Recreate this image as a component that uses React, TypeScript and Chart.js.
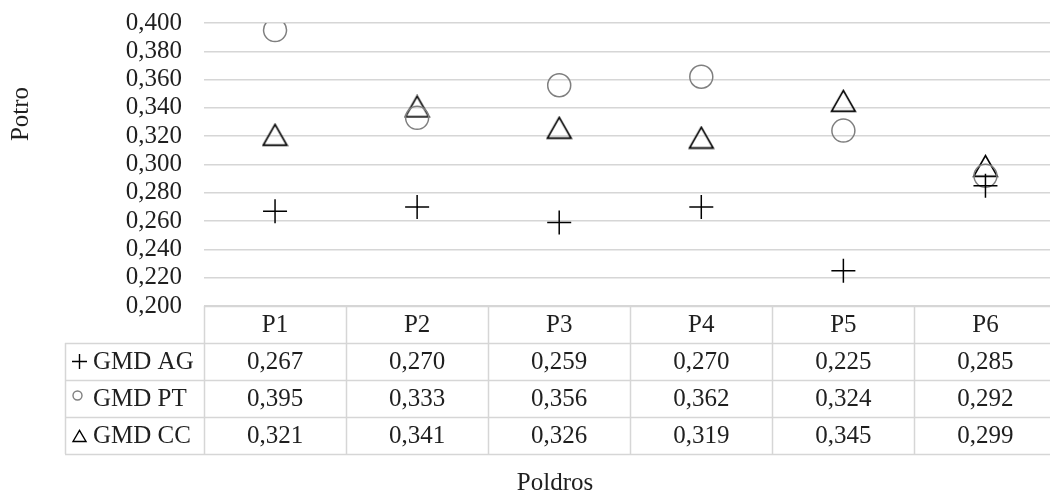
import React, { useEffect, useRef } from "react";
import { Chart, registerables } from "chart.js";

Chart.register(...registerables);

const categories = ["P1", "P2", "P3", "P4", "P5", "P6"];
const gmdAG = [0.267, 0.27, 0.259, 0.27, 0.225, 0.285];
const gmdPT = [0.395, 0.333, 0.356, 0.362, 0.324, 0.292];
const gmdCC = [0.321, 0.341, 0.326, 0.319, 0.345, 0.299];
const seriesNames = ["GMD AG", "GMD PT", "GMD CC"];
const yMin = 0.2;
const yMax = 0.4;
const yStep = 0.02;
const xTitle = "Poldros";
const yTitle = "Potro";

const FONT = '"Liberation Serif", "Times New Roman", serif';
const TEXT = "#1f1f1f";
const GRID = "#d6d6d6";

function fmt(v: number) {
  return v.toFixed(3).replace(".", ",");
}

function makeTriangle(w: number, h: number, lw: number) {
  const c = document.createElement("canvas");
  c.width = w;
  c.height = h;
  const ctx = c.getContext("2d")!;
  ctx.strokeStyle = "#000";
  ctx.lineWidth = lw;
  ctx.lineJoin = "miter";
  ctx.beginPath();
  ctx.moveTo(lw, h - lw);
  ctx.lineTo(w / 2, lw);
  ctx.lineTo(w - lw, h - lw);
  ctx.closePath();
  ctx.stroke();
  return c;
}

const tablePlugin = {
  id: "dataTable",
  afterDraw(chart: any) {
    const { ctx, chartArea } = chart;
    const xs = chart.scales.x;
    const n = categories.length;
    const colW = (chartArea.right - chartArea.left) / n;
    const rowH = 37;
    const top = chartArea.bottom;
    const legendLeft = 65;
    const right = chartArea.right;
    ctx.save();
    ctx.strokeStyle = GRID;
    ctx.lineWidth = 1.5;
    ctx.beginPath();
    ctx.moveTo(chartArea.left, top + 0.5);
    ctx.lineTo(right, top + 0.5);
    for (let r = 1; r <= 4; r++) {
      const y = top + r * rowH + 0.5;
      ctx.moveTo(legendLeft, y);
      ctx.lineTo(right, y);
    }
    ctx.moveTo(legendLeft + 0.5, top + rowH);
    ctx.lineTo(legendLeft + 0.5, top + 4 * rowH);
    for (let i = 0; i <= n; i++) {
      const x = Math.round(xs.getPixelForValue(i) - colW / 2) + 0.5;
      ctx.moveTo(x, top);
      ctx.lineTo(x, top + 4 * rowH);
    }
    ctx.stroke();

    ctx.fillStyle = TEXT;
    ctx.font = `25px ${FONT}`;
    ctx.textAlign = "center";
    ctx.textBaseline = "middle";
    categories.forEach((c, i) => {
      ctx.fillText(c, xs.getPixelForValue(i), top + rowH / 2 + 1);
    });
    const dss = chart.data.datasets;
    dss.forEach((ds: any, r: number) => {
      const cy = top + (r + 1) * rowH + rowH / 2 + 1;
      ctx.textAlign = "center";
      ds.data.forEach((v: number, i: number) => {
        ctx.fillText(fmt(v), xs.getPixelForValue(i), cy);
      });
      ctx.textAlign = "left";
      ctx.fillText(ds.label, 93, cy);
      const mx = 79.5;
      ctx.save();
      ctx.lineWidth = 1.4;
      if (r === 0) {
        ctx.strokeStyle = "#000";
        ctx.beginPath();
        ctx.moveTo(mx - 7.5, cy - 1);
        ctx.lineTo(mx + 7.5, cy - 1);
        ctx.moveTo(mx, cy - 8.5);
        ctx.lineTo(mx, cy + 6.5);
        ctx.stroke();
      } else if (r === 1) {
        ctx.strokeStyle = "#7f7f7f";
        ctx.beginPath();
        ctx.arc(mx - 2, cy - 4, 4.5, 0, Math.PI * 2);
        ctx.stroke();
      } else {
        ctx.strokeStyle = "#000";
        ctx.beginPath();
        ctx.moveTo(mx - 6.5, cy + 5);
        ctx.lineTo(mx, cy - 6);
        ctx.lineTo(mx + 6.5, cy + 5);
        ctx.closePath();
        ctx.stroke();
      }
      ctx.restore();
    });

    ctx.textAlign = "center";
    ctx.textBaseline = "middle";
    ctx.fillStyle = TEXT;
    ctx.fillText(xTitle, 555, 483);
    ctx.save();
    ctx.translate(21, 114);
    ctx.rotate(-Math.PI / 2);
    ctx.fillText(yTitle, 0, 0);
    ctx.restore();
    ctx.restore();
  },
};

export default function App() {
  const ref = useRef<HTMLCanvasElement | null>(null);
  useEffect(() => {
    if (!ref.current) return;
    const tri = makeTriangle(27, 24, 1.7);
    const chart = new Chart(ref.current, {
      type: "line",
      data: {
        labels: categories,
        datasets: [
          {
            label: seriesNames[0],
            data: gmdAG,
            showLine: false,
            pointStyle: "cross",
            pointRadius: 12,
            pointHoverRadius: 12,
            borderColor: "#000",
            backgroundColor: "transparent",
            pointBorderWidth: 1.5,
          },
          {
            label: seriesNames[1],
            data: gmdPT,
            showLine: false,
            pointStyle: "circle",
            pointRadius: 11.5,
            pointHoverRadius: 11.5,
            borderColor: "#7f7f7f",
            backgroundColor: "transparent",
            pointBorderWidth: 1.5,
          },
          {
            label: seriesNames[2],
            data: gmdCC,
            showLine: false,
            pointStyle: tri as any,
            pointRadius: 12,
            borderColor: "#000",
            backgroundColor: "transparent",
          },
        ],
      },
      options: {
        responsive: false,
        animation: false,
        events: [],
        layout: { padding: { left: 0, top: 23, right: 5, bottom: 0 } },
        plugins: { legend: { display: false }, tooltip: { enabled: false } },
        scales: {
          x: {
            type: "category",
            offset: true,
            ticks: { display: false },
            grid: { display: false },
            border: { display: false },
            afterFit: (s: any) => {
              s.height = 189;
              s.paddingLeft = 0;
              s.paddingRight = 0;
            },
          },
          y: {
            min: yMin,
            max: yMax,
            ticks: {
              stepSize: yStep,
              autoSkip: false,
              padding: 22,
              color: TEXT,
              font: { family: FONT, size: 25 },
              callback: (v: any) => fmt(Number(v)),
            },
            grid: { color: GRID, lineWidth: 1.5, drawTicks: false },
            border: { display: false },
            afterFit: (s: any) => {
              s.width = 204;
              s.paddingTop = 0;
              s.paddingBottom = 0;
            },
          },
        },
      },
      plugins: [tablePlugin],
    });
    return () => chart.destroy();
  }, []);
  return (
    <div
      style={{
        position: "fixed",
        left: 0,
        top: 0,
        width: 1050,
        height: 495,
        overflow: "hidden",
        background: "#fff",
      }}
    >
      <canvas ref={ref} width={1070} height={495} style={{ display: "block" }} />
    </div>
  );
}
